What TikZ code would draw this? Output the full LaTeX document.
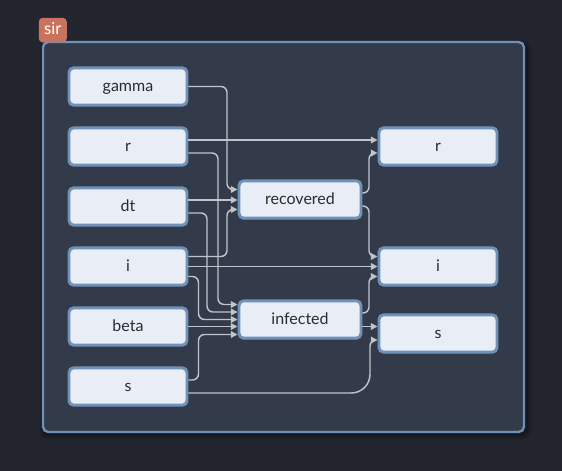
\documentclass[tikz,border=0pt]{standalone}
\usepackage{fontspec}
\setmainfont{Lato}
\usetikzlibrary{arrows.meta,calc}
\definecolor{bg}{HTML}{22252E}
\definecolor{panel}{HTML}{333B4A}
\definecolor{panelborder}{HTML}{7090B6}
\definecolor{nodefill}{HTML}{E9EDF5}
\definecolor{nodeborder}{HTML}{7192B8}
\definecolor{txt}{HTML}{262B36}
\definecolor{edgec}{HTML}{BFC3CB}
\definecolor{tag}{HTML}{C9735F}
\tikzset{
  box/.style={draw=nodeborder, line width=2.2pt, fill=nodefill, rounded corners=3.5pt,
    minimum width=88.5pt, minimum height=28pt, inner sep=0pt, text=txt,
    text height=1.55ex, text depth=0pt,
    font=\fontsize{12}{14}\selectfont},
  midbox/.style={box, minimum width=91.5pt},
  conn/.style={draw=edgec, line width=1.1pt, rounded corners=4.5pt,
    -{Triangle[length=5pt,width=5pt]}},
}
\begin{document}
\begin{tikzpicture}[x=0.75pt,y=-0.75pt]
\fill[bg] (0,0) rectangle (562,471);
\useasboundingbox (0,0) rectangle (562,471);
% shadow + container
\fill[black,opacity=0.18,rounded corners=6pt] (40,41) rectangle (531,439);
\fill[black,opacity=0.18,rounded corners=5pt] (42,42) rectangle (528,436);
\draw[panelborder, line width=1.8pt, fill=panel, rounded corners=4pt] (43,42) rectangle (524,432);
\node[fill=tag, rounded corners=3pt, minimum width=21pt, minimum height=18.5pt, inner sep=0pt,
  text=white, font=\fontsize{12.5}{14}\selectfont, text height=1.4ex, text depth=0pt,
  anchor=north west] (tagsir) at (38.5,17.5) {sir};
% left column
\node[box] (gamma) at (128,86.5) {gamma};
\node[box] (lr) at (128,146.5) {r};
\node[box] (ldt) at (128,206.5) {dt};
\node[box] (li) at (128,266.5) {i};
\node[box] (beta) at (128,326.5) {beta};
\node[box] (ls) at (128,386.5) {s};
% middle
\node[midbox] (rec) at (300,199.5) {recovered};
\node[midbox] (inf) at (300,319.5) {infected};
% right
\node[box] (rr) at (438,146.5) {r};
\node[box] (ri) at (438,266.5) {i};
\node[box] (rs) at (438,333.5) {s};
% ports
\coordinate (lr-o1) at ($(lr.east)+(0,-6.5)$);
\coordinate (lr-o2) at ($(lr.east)+(0,6.5)$);
\coordinate (ldt-o1) at ($(ldt.east)+(0,-6.5)$);
\coordinate (ldt-o2) at ($(ldt.east)+(0,6.5)$);
\coordinate (li-o1) at ($(li.east)+(0,-10)$);
\coordinate (li-o2) at ($(li.east)+(0,0)$);
\coordinate (li-o3) at ($(li.east)+(0,10)$);
\coordinate (ls-o1) at ($(ls.east)+(0,-6.5)$);
\coordinate (ls-o2) at ($(ls.east)+(0,6.5)$);
\coordinate (rec-i1) at ($(rec.west)+(0,-10)$);
\coordinate (rec-i3) at ($(rec.west)+(0,10)$);
\coordinate (rec-o1) at ($(rec.east)+(0,-6.5)$);
\coordinate (rec-o2) at ($(rec.east)+(0,6.5)$);
\coordinate (inf-i1) at ($(inf.west)+(0,-15)$);
\coordinate (inf-i2) at ($(inf.west)+(0,-7.5)$);
\coordinate (inf-i3) at ($(inf.west)+(0,0)$);
\coordinate (inf-i5) at ($(inf.west)+(0,15)$);
\coordinate (inf-o1) at ($(inf.east)+(0,-6.5)$);
\coordinate (inf-o2) at ($(inf.east)+(0,7)$);
\coordinate (rr-i2) at ($(rr.west)+(0,6.5)$);
\coordinate (ri-i1) at ($(ri.west)+(0,-10)$);
\coordinate (ri-i3) at ($(ri.west)+(0,10)$);
\coordinate (rs-i2) at ($(rs.west)+(0,6.5)$);
% lanes
\coordinate (xA) at (227,0);
\coordinate (xB) at (218,0);
\coordinate (xC) at (207,0);
\coordinate (xD) at (198.5,0);
\coordinate (xR) at (369,0);
\coordinate (xS) at (370,0);
% edges into recovered
\draw[conn] (gamma.east) -- (gamma.east -| xA) -- (rec-i1 -| xA) -- (rec-i1);
\draw[conn] (ldt-o1) -- (ldt-o1 -| rec.west);
\draw[conn] (li-o1) -- (li-o1 -| xA) -- (rec-i3 -| xA) -- (rec-i3);
% edges into infected
\draw[conn] (lr-o2) -- (lr-o2 -| xB) -- (inf-i1 -| xB) -- (inf-i1);
\draw[conn] (ldt-o2) -- (ldt-o2 -| xC) -- (inf-i2 -| xC) -- (inf-i2);
\draw[conn] (li-o3) -- (li-o3 -| xD) -- (inf-i3 -| xD) -- (inf-i3);
\draw[conn] (beta.east) -- (beta.east -| inf.west);
\draw[conn] (ls-o1) -- (ls-o1 -| xD) -- (inf-i5 -| xD) -- (inf-i5);
% straight across
\draw[conn] (lr-o1) -- (lr-o1 -| rr.west);
\draw[conn] (li-o2) -- (li-o2 -| ri.west);
% right side
\draw[conn] (rec-o1) -- (rec-o1 -| xR) -- (rr-i2 -| xR) -- (rr-i2);
\draw[conn] (rec-o2) -- (rec-o2 -| xR) -- (ri-i1 -| xR) -- (ri-i1);
\draw[conn] (inf-o1) -- (inf-o1 -| xR) -- (ri-i3 -| xR) -- (ri-i3);
\draw[conn] (inf-o2) -- (inf-o2 -| rs.west);
\draw[conn, rounded corners=14pt] (ls-o2) -- (ls-o2 -| xS) [rounded corners=4.5pt] -- (rs-i2 -| xS) -- (rs-i2);
\end{tikzpicture}
\end{document}
